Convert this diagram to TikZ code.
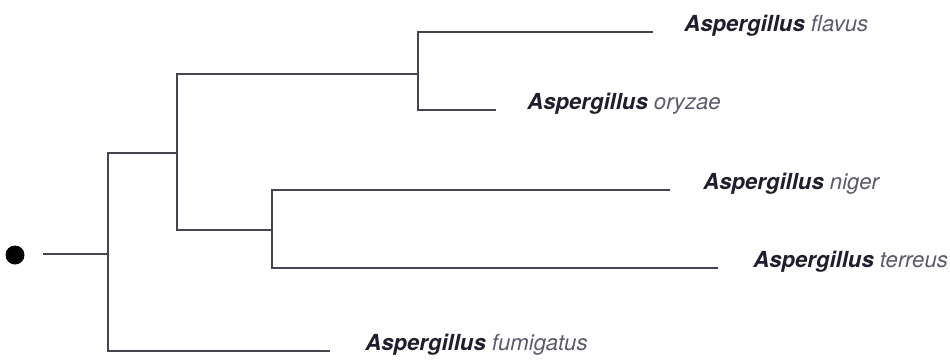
\documentclass[tikz,border=0pt]{standalone}
\usepackage{fontspec}
\setmainfont{TeX Gyre Heros}
\definecolor{branch}{HTML}{45454F}
\definecolor{genus}{HTML}{1E1E2E}
\definecolor{epithet}{HTML}{5A5A6A}
\newcommand{\asp}[1]{{\bfseries\itshape\color{genus}Aspergillus} {\itshape\color{epithet}#1}}

\begin{document}
\begin{tikzpicture}[x=0.02cm, y=-0.02cm,
  branch/.style={draw=branch, line width=1.2pt},
  taxon/.style={anchor=base west, inner sep=0pt, font=\fontsize{12.6}{15}\selectfont}]

  \useasboundingbox (0,0) rectangle (950,362);

  % Root dot and stem
  \node[circle, fill=black, inner sep=0pt, minimum size=0.38cm] (root) at (15,255) {};
  \coordinate (stem) at (43,254);

  % Internal nodes
  \coordinate (n1) at (108,254);
  \coordinate (n2) at (177,153);
  \coordinate (n3) at (418,74);
  \coordinate (n4) at (272,230);

  % Leaf ends
  \coordinate (flE) at (653,32);
  \coordinate (orE) at (496,110);
  \coordinate (niE) at (670,190);
  \coordinate (teE) at (718,268);
  \coordinate (fuE) at (330,351);

  % Species labels
  \node[taxon] (fl) at (684,31)  {\asp{flavus}};
  \node[taxon] (or) at (527,109) {\asp{oryzae}};
  \node[taxon] (ni) at (703,189) {\asp{niger}};
  \node[taxon] (te) at (753,267) {\asp{terreus}};
  \node[taxon] (fu) at (365,350) {\asp{fumigatus}};

  % Branches
  \draw[branch] (stem) -- (n1);
  \draw[branch] (n1) |- (n2);
  \draw[branch] (n1) |- (fuE);
  \draw[branch] (n2) |- (n3);
  \draw[branch] (n2) |- (n4);
  \draw[branch] (n3) |- (flE);
  \draw[branch] (n3) |- (orE);
  \draw[branch] (n4) |- (niE);
  \draw[branch] (n4) |- (teE);

\end{tikzpicture}
\end{document}
